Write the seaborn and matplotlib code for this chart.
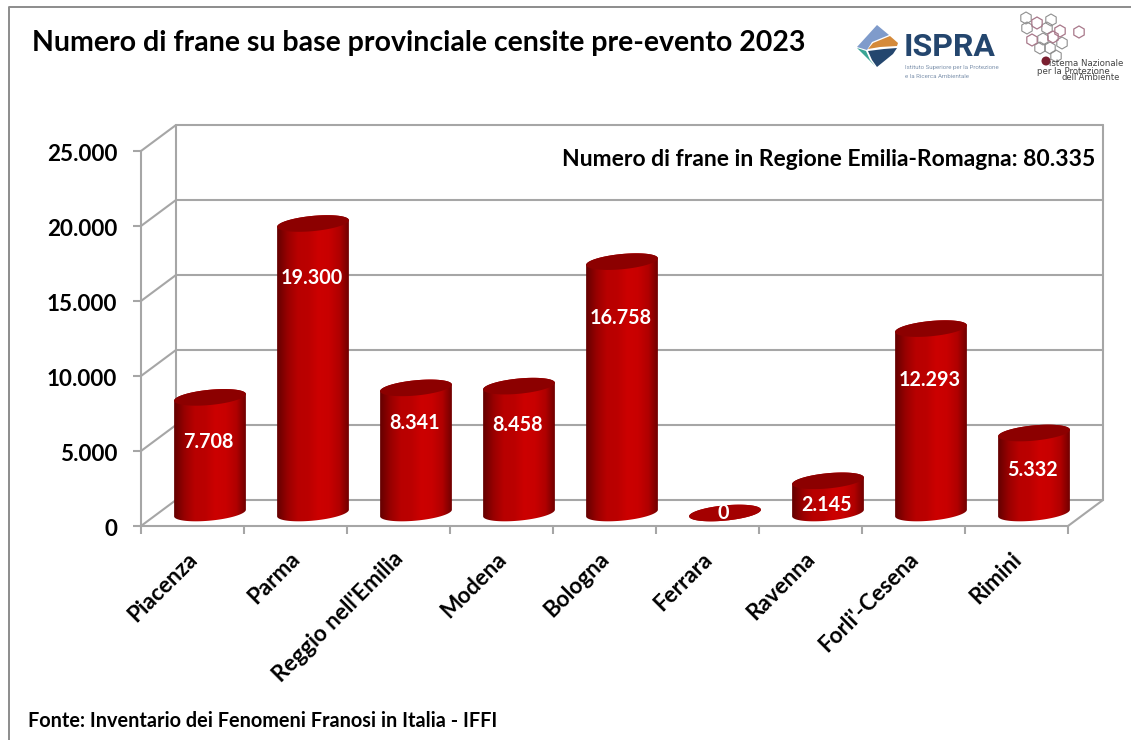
import numpy as np
import pandas as pd
import seaborn as sns
import matplotlib.pyplot as plt
from matplotlib.patches import Polygon, RegularPolygon
from matplotlib.transforms import ScaledTranslation

province = ["Piacenza", "Parma", "Reggio nell'Emilia", "Modena", "Bologna",
            "Ferrara", "Ravenna", "Forli'-Cesena", "Rimini"]
frane = [7708, 19300, 8341, 8458, 16758, 0, 2145, 12293, 5332]
y_ticks = [0, 5000, 10000, 15000, 20000, 25000]

title = "Numero di frane su base provinciale censite pre-evento 2023"
note = "Numero di frane in Regione Emilia-Romagna: 80.335"
fonte = "Fonte: Inventario dei Fenomeni Franosi in Italia - IFFI"

W, H = 1131, 740
GREY = "#a6a6a6"
STEP = 103.0       # px per category
PX_Y = 375 / 25000  # px per unit of value

sns.set_theme(style="white")
plt.rcParams["font.family"] = ["Lato", "DejaVu Sans"]
plt.rcParams["font.weight"] = "bold"


def fmt(v):
    return f"{v:,}".replace(",", ".")


def box(x0, ytop, x1, ybot):
    return [x0 / W, 1 - ybot / H, (x1 - x0) / W, (ybot - ytop) / H]


fig = plt.figure(figsize=(W / 100, H / 100), dpi=100, facecolor="white")

# whole-figure layer in pixels: border, title, logos
page = fig.add_axes([0, 0, 1, 1], zorder=0)
page.set_xlim(0, W)
page.set_ylim(H, 0)
page.axis("off")
page.plot([8.5, 8.5, W], [H, 7, 7], color="#8c8c8c", lw=1.4)
page.text(32, 43, title, fontsize=20.5, va="center", ha="left", color="black")
page.text(28, 721, fonte, fontsize=14.3, va="center", ha="left", color="black")

# ISPRA logo
page.add_patch(Polygon([(877, 25), (889, 35), (872, 42), (867, 50), (857, 47)], color="#7f9bcb", lw=0))
page.add_patch(Polygon([(890, 36), (898, 43), (897, 46), (880, 47), (868, 49), (873, 43)], color="#d58a3a", lw=0))
page.add_patch(Polygon([(868, 51), (884, 49), (897, 48), (893, 54), (877, 67), (872, 60)], color="#24466e", lw=0))
page.add_patch(Polygon([(857, 48), (866, 51), (870, 60), (875, 66)], color="#3aa595", lw=0))
page.text(904, 47, "ISPRA", fontsize=23, color="#24466e", va="center", ha="left", family="Roboto")
page.text(905, 67, "Istituto Superiore per la Protezione", fontsize=4.4, color="#7f93ad",
          va="center", ha="left", weight="normal", family="Roboto")
page.text(905, 76, "e la Ricerca Ambientale", fontsize=4.4, color="#7f93ad",
          va="center", ha="left", weight="normal", family="Roboto")

# SNPA logo
hex_grey = [(1026, 18), (1051, 20), (1027, 28), (1047, 28), (1043, 39), (1062, 43),
            (1040, 48), (1050, 48), (1056, 56)]
hex_red = [(1037, 23), (1060, 31), (1079, 32), (1032, 40), (1053, 37)]
for xy in hex_grey:
    page.add_patch(RegularPolygon(xy, 6, radius=6, fill=False, edgecolor="#8f8f8f", lw=0.8))
for xy in hex_red:
    page.add_patch(RegularPolygon(xy, 6, radius=6, fill=False, edgecolor="#a8788a", lw=0.9))
page.add_patch(plt.Circle((1046, 61), 4.5, color="#7a1f30", lw=0))
page.text(1049, 64, "istema Nazionale", fontsize=6.2, color="#444444", va="center", ha="left",
          weight="normal", family="DejaVu Sans")
page.text(1037, 71, "per la Protezione", fontsize=6.2, color="#444444", va="center", ha="left",
          weight="normal", family="DejaVu Sans")
page.text(1062, 78, "dell'Ambiente", fontsize=6.0, color="#444444", va="center", ha="left",
          weight="normal", family="DejaVu Sans")

# front axes: value scale, ticks, labels and the 3d walls
front = fig.add_axes(box(141, 151, 1068, 526), zorder=1)
front.patch.set_alpha(0)
front.set_xlim(-0.5, len(province) - 0.5)
front.set_ylim(0, 25000)
depth_x, depth_y = 35 / STEP, 26 / PX_Y
xl, xr = -0.5, len(province) - 0.5
for t in y_ticks:
    front.plot([xl, xl + depth_x, xr + depth_x], [t, t + depth_y, t + depth_y],
               color=GREY, lw=1.5, clip_on=False, solid_joinstyle="miter")
front.plot([xl + depth_x] * 2, [depth_y, 25000 + depth_y], color=GREY, lw=1.5, clip_on=False)
front.plot([xr + depth_x] * 2, [depth_y, 25000 + depth_y], color=GREY, lw=1.5, clip_on=False)
front.plot([xr, xr + depth_x], [0, depth_y], color=GREY, lw=1.5, clip_on=False)
for side in ["top", "right"]:
    front.spines[side].set_visible(False)
for side in ["left", "bottom"]:
    front.spines[side].set_color(GREY)
    front.spines[side].set_linewidth(1.5)
front.set_yticks(y_ticks)
front.set_yticklabels([fmt(t) for t in y_ticks], fontsize=16.2, color="black")
front.tick_params(axis="y", length=6, width=1.5, color=GREY, pad=11, left=True)
front.set_xticks(np.arange(len(province)))
front.set_xticklabels(province, rotation=45, ha="right", va="top",
                      rotation_mode="anchor", fontsize=16.2, color="black")
front.set_xticks(np.arange(len(province) + 1) - 0.5, minor=True)
front.tick_params(axis="x", which="major", length=0, pad=16, bottom=False)
front.tick_params(axis="x", which="minor", length=6, width=1.5, color=GREY, bottom=True)
for lab in front.get_xticklabels():
    lab.set_transform(lab.get_transform() + ScaledTranslation(-6 / 100, 0, fig.dpi_scale_trans))
for lab in front.get_yticklabels():
    lab.set_transform(lab.get_transform() + ScaledTranslation(0, -1.5 / 100, fig.dpi_scale_trans))

# bar axes: the same scale, pushed half way into the depth of the floor
bar_ax = fig.add_axes(box(158.5, 138, 1085.5, 533), zorder=2)
bar_ax.patch.set_alpha(0)
df = pd.DataFrame({"provincia": province, "frane": frane})
sns.barplot(data=df, x="provincia", y="frane", color="#b00000", saturation=1,
            width=0.7, ax=bar_ax)
ymin = -20 / PX_Y
bar_ax.set_xlim(-0.5, len(province) - 0.5)
bar_ax.set_ylim(ymin, 25000)
bar_ax.axis("off")

gradient = sns.blend_palette(["#640000", "#980000", "#b80000", "#bb0000", "#cc0000",
                              "#c80000", "#b00000", "#6a0000"], n_colors=90, as_cmap=True)
ramp = np.linspace(0, 1, 256).reshape(1, -1)

# vertical offset in px of each value label from the base of its bar
label_rise = [71, 235, 90, 88, 195, 0, 8, 133, 43]


def ring(cx, v, semi_x, start, stop, n=60):
    # tilted ellipse, worked out in pixels and handed back in bar_ax data units
    t = np.radians(np.linspace(start, stop, n))
    a = np.radians(5.5)
    ex, ey = semi_x * np.cos(t), 7.6 * np.sin(t)
    px = ex * np.cos(a) - ey * np.sin(a)
    py = ex * np.sin(a) + ey * np.cos(a)
    return np.column_stack([cx + px / STEP, v + py / PX_Y])


for i, p in enumerate(bar_ax.patches):
    cx = p.get_x() + p.get_width() / 2
    v = p.get_height()
    semi = p.get_width() / 2 * STEP
    # bottom arc left to right, then back over the top ellipse
    low = ring(cx, 0, semi, 180, 360)
    high = ring(cx, v, semi, 0, 180)
    body = Polygon(np.vstack([low, high]), closed=True, transform=bar_ax.transData, fc="none", lw=0)
    bar_ax.add_patch(body)
    img = bar_ax.imshow(ramp, cmap=gradient, aspect="auto", zorder=3, interpolation="bilinear",
                        extent=(p.get_x(), p.get_x() + p.get_width(), ymin, v + depth_y))
    img.set_clip_path(body)
    p.set_visible(False)
    cap_col = "#8c0000" if v > 0 else "#a40000"
    bar_ax.add_patch(Polygon(ring(cx, v, semi, 0, 360), closed=True, fc=cap_col, lw=0, zorder=4))
    bar_ax.text(cx - 1.5 / STEP, label_rise[i] / PX_Y, fmt(frane[i]), color="white", fontsize=14.2,
                ha="center", va="center", zorder=5)
bar_ax.set_xlim(-0.5, len(province) - 0.5)
bar_ax.set_ylim(ymin, 25000)

page.text(1095, 160, note, fontsize=16.5, va="center", ha="right", color="black", zorder=6)

fig.savefig("out.png", dpi=100)
